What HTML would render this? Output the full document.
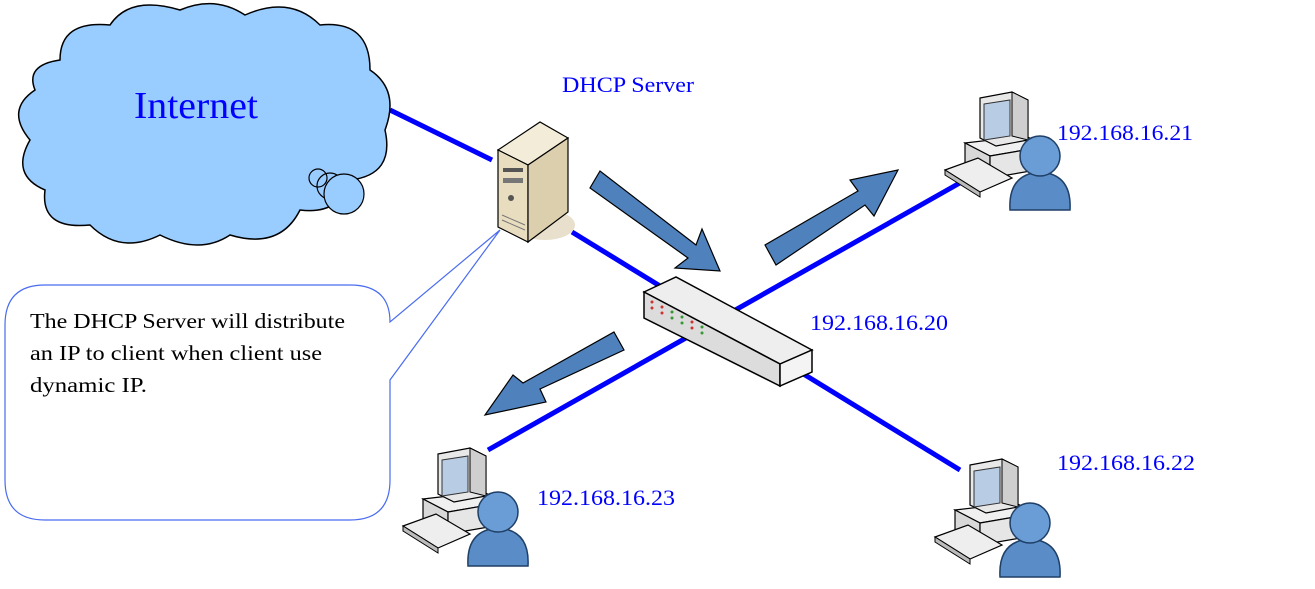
<!DOCTYPE html>
<html><head><meta charset="utf-8"><style>
html,body{margin:0;padding:0;background:#fff;width:1315px;height:589px;overflow:hidden}
svg text{font-family:"Liberation Serif",serif}
</style></head><body>
<svg width="1315" height="589" viewBox="0 0 1315 589" xmlns="http://www.w3.org/2000/svg">
<defs>
<g id="pc">
  <polygon points="25,55 85,48 108,58 50,68" fill="#f0f0f0" stroke="#000" stroke-width="1.2"/>
  <polygon points="25,55 50,68 50,90 25,78" fill="#d8d8d8" stroke="#000" stroke-width="1.2"/>
  <polygon points="50,68 108,58 108,80 50,90" fill="#e6e6e6" stroke="#000" stroke-width="1.2"/>
  <polygon points="40,10 72,4 88,12 88,52 56,58 40,50" fill="#e8e8e8" stroke="#000" stroke-width="1.2"/>
  <polygon points="44,16 70,12 70,48 44,52" fill="#b8cce4" stroke="#333"/>
  <polygon points="72,4 88,12 88,52 72,48" fill="#cfcfcf" stroke="#000"/>
  <polygon points="5,82 38,70 72,90 40,104" fill="#eee" stroke="#000" stroke-width="1.2"/>
  <polygon points="5,82 40,104 40,109 5,87" fill="#bbb" stroke="#000"/>
  <path d="M70,122 Q68,86 100,84 Q132,86 130,122 Z" fill="#5a8dc8" stroke="#1f3f66" stroke-width="1.5"/>
  <circle cx="100" cy="68" r="20" fill="#6a9dd6" stroke="#1f3f66" stroke-width="1.5"/>
</g>
</defs>

<g stroke="#0000ff" stroke-width="5" fill="none">
  <line x1="390" y1="110" x2="492" y2="160"/>
  <line x1="572" y1="232" x2="960" y2="470"/>
  <line x1="965" y1="180" x2="488" y2="450"/>
</g>

<path d="M60,60 Q60,20 110,25 Q130,-5 180,10 Q215,-5 245,15 Q290,-5 320,25 Q370,20 370,70 Q400,90 385,130 Q395,175 350,180 Q340,215 300,210 Q280,250 230,235 Q200,255 160,235 Q120,255 90,225 Q40,230 45,190 Q10,175 30,140 Q5,110 35,90 Q25,65 60,60 Z" fill="#99ccff" stroke="#000" stroke-width="1.5"/>
<circle cx="318" cy="178" r="9" fill="none" stroke="#000" stroke-width="1.2"/>
<circle cx="330" cy="186" r="13" fill="none" stroke="#000" stroke-width="1.2"/>
<circle cx="344" cy="194" r="20" fill="#99ccff" stroke="#000" stroke-width="1.2"/>
<text x="134" y="118" font-size="38" fill="#0000ff" textLength="124" lengthAdjust="spacingAndGlyphs">Internet</text>

<path d="M45,285 H350 Q390,285 390,322 L500,230 L390,380 V480 Q390,520 350,520 H45 Q5,520 5,480 V325 Q5,285 45,285 Z" fill="#fff" stroke="#4a6cf0" stroke-width="1.2"/>
<g font-size="21" fill="#000">
<text x="30" y="328" textLength="315" lengthAdjust="spacingAndGlyphs">The DHCP Server will distribute</text>
<text x="30" y="360" textLength="292" lengthAdjust="spacingAndGlyphs">an IP to client when client use</text>
<text x="30" y="392" textLength="117" lengthAdjust="spacingAndGlyphs">dynamic IP.</text>
</g>

<ellipse cx="545" cy="225" rx="30" ry="15" fill="#e8e0cc"/>
<polygon points="498,150 540,122 568,138 528,165" fill="#f3ecd8" stroke="#000" stroke-width="1.2"/>
<polygon points="498,150 528,165 528,242 498,227" fill="#e9ddc0" stroke="#000" stroke-width="1.2"/>
<polygon points="528,165 568,138 568,212 528,242" fill="#dccfae" stroke="#000" stroke-width="1.2"/>
<rect x="503" y="168" width="20" height="4" fill="#555"/>
<rect x="503" y="178" width="20" height="5" fill="#777"/>
<circle cx="511" cy="198" r="3" fill="#555"/>
<line x1="502" y1="215" x2="525" y2="225" stroke="#777"/>
<line x1="502" y1="220" x2="525" y2="230" stroke="#777"/>

<polygon points="644,292 676,277 812,350 780,364" fill="#eeeeee" stroke="#000" stroke-width="1.5"/>
<polygon points="644,292 780,364 780,386 644,318" fill="#dcdcdc" stroke="#000" stroke-width="1.5"/>
<polygon points="780,364 812,350 812,372 780,386" fill="#f4f4f4" stroke="#000" stroke-width="1.5"/>
<g fill="#c33"><circle cx="652" cy="302" r="1.5"/><circle cx="652" cy="308" r="1.5"/><circle cx="662" cy="307" r="1.5"/><circle cx="662" cy="313" r="1.5"/><circle cx="692" cy="322" r="1.5"/><circle cx="692" cy="328" r="1.5"/></g>
<g fill="#393"><circle cx="672" cy="312" r="1.5"/><circle cx="672" cy="318" r="1.5"/><circle cx="682" cy="317" r="1.5"/><circle cx="682" cy="323" r="1.5"/><circle cx="702" cy="327" r="1.5"/><circle cx="702" cy="333" r="1.5"/></g>

<g fill="#4f81bd" stroke="#000" stroke-width="1.2">
  <polygon points="600,171 590,188 688,258 675,268 720,271 702,229 696,245"/>
  <polygon points="765,245 776,265 865,205 874,216 898,170 850,180 858,191"/>
  <polygon points="614,332 624,350 540,389 546,402 485,415 513,375 523,383"/>
</g>

<use href="#pc" x="940" y="88"/>
<use href="#pc" x="930" y="455"/>
<use href="#pc" x="398" y="444"/>

<g font-size="22" fill="#0000ff">
<text x="562" y="92" textLength="132" lengthAdjust="spacingAndGlyphs">DHCP Server</text>
<text x="1057" y="140" textLength="136" lengthAdjust="spacingAndGlyphs">192.168.16.21</text>
<text x="810" y="330" textLength="138" lengthAdjust="spacingAndGlyphs">192.168.16.20</text>
<text x="1057" y="470" textLength="138" lengthAdjust="spacingAndGlyphs">192.168.16.22</text>
<text x="537" y="505" textLength="138" lengthAdjust="spacingAndGlyphs">192.168.16.23</text>
</g>
</svg>
</body></html>
